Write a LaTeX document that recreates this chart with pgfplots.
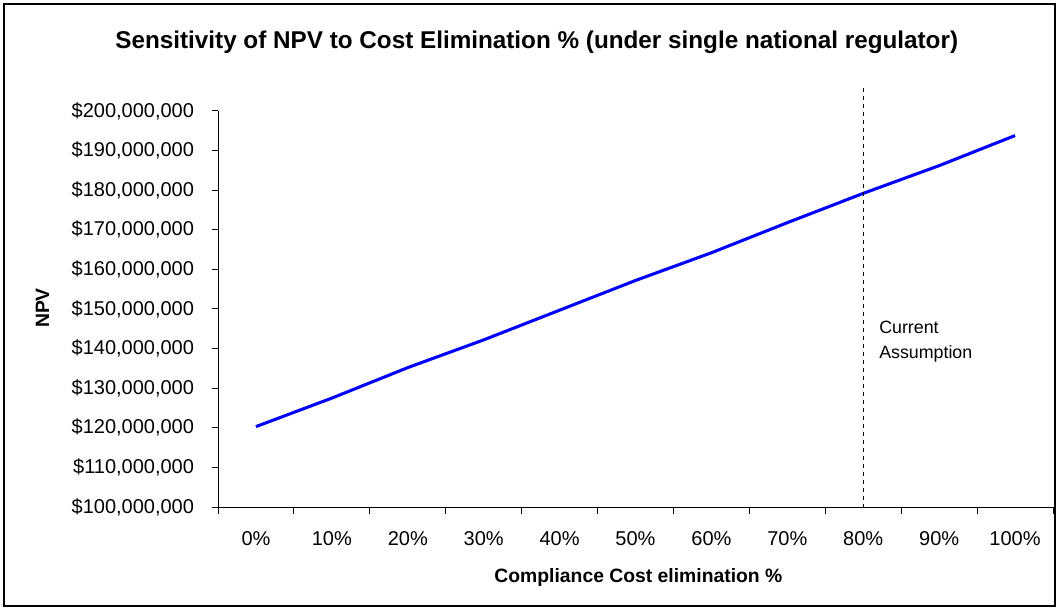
\documentclass[border=0pt]{standalone}
\usepackage{fontspec}
\setmainfont{Liberation Sans}
\usepackage{pgfplots}
\pgfplotsset{compat=1.18}
\begin{document}
\begin{tikzpicture}[x=0.75pt,y=0.75pt]
\useasboundingbox (0,0) rectangle (1059,610);
\draw[black, line width=1.1pt] (4,4) rectangle (1055,606);
\begin{axis}[
  at={(163.5pt,77.25pt)}, anchor=south west,
  scale only axis, width=626.25pt, height=297pt,
  xmin=-0.5, xmax=10.5, ymin=100, ymax=200,
  clip=false,
  axis lines=left,
  axis line style={-, line width=0.75pt, black},
  xtick={0,1,2,3,4,5,6,7,8,9,10},
  xticklabels={0\%,10\%,20\%,30\%,40\%,50\%,60\%,70\%,80\%,90\%,100\%},
  major x tick style={draw=none},
  minor xtick={-0.5,0.5,1.5,2.5,3.5,4.5,5.5,6.5,7.5,8.5,9.5,10.5},
  minor x tick style={black, line width=0.75pt},
  minor tick length=5.25pt,
  major tick length=4.2pt,
  ytick={100,110,120,130,140,150,160,170,180,190,200},
  yticklabels={{\$100,000,000},{\$110,000,000},{\$120,000,000},{\$130,000,000},{\$140,000,000},{\$150,000,000},{\$160,000,000},{\$170,000,000},{\$180,000,000},{\$190,000,000},{\$200,000,000}},
  tick align=outside,
  tick style={black, line width=0.75pt},
  tick label style={font=\fontsize{15}{17}\selectfont},
  xticklabel style={anchor=base, yshift=-24.7pt},
  yticklabel style={anchor=east, inner sep=0pt, xshift=-13.6pt},
  title={Sensitivity of NPV to Cost Elimination \% (under single national regulator)},
  every axis title/.style={at={(axis description cs:0.3817,1.1583)}, anchor=base, font=\bfseries\fontsize{18.2}{21}\selectfont},
  xlabel={Compliance Cost elimination \%},
  every axis x label/.style={at={(axis description cs:0.5035,-0.1912)}, anchor=base, font=\bfseries\fontsize{14.5}{17}\selectfont},
  ylabel={NPV},
  every axis y label/.style={at={(axis description cs:-0.2102,0.5025)}, rotate=90, anchor=center, font=\bfseries\fontsize{14.5}{17}\selectfont},
]
\addplot[blue, line width=2.3pt, mark=none, line join=round] coordinates {
  (0,120.3) (1,127.5) (2,135.2) (3,142.2) (4,149.7) (5,157.2)
  (6,164.2) (7,171.8) (8,179.2) (9,186.2) (10,193.8)
};
\addplot[black, line width=0.95pt, dash pattern=on 3pt off 3pt, mark=none] coordinates {(8,205.8) (8,100)};
\node[anchor=base west, inner sep=0pt, font=\fontsize{13.35}{16}\selectfont] at (axis cs:8.208,143.9) {Current};
\node[anchor=base west, inner sep=0pt, font=\fontsize{13.35}{16}\selectfont] at (axis cs:8.208,137.6) {Assumption};
\end{axis}
\end{tikzpicture}
\end{document}
